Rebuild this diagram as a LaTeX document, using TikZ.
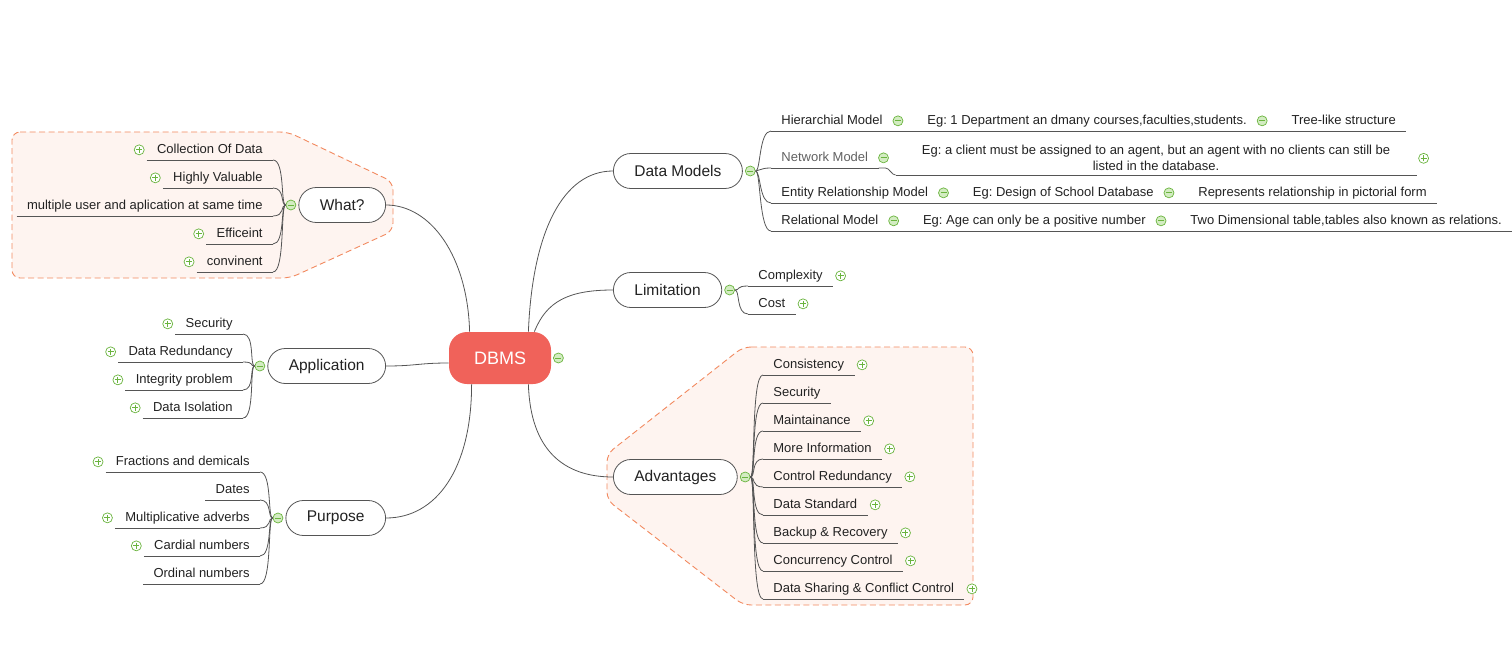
\documentclass[tikz,border=0pt]{standalone}
\usepackage{fontspec}
\setmainfont{Liberation Sans}
\usetikzlibrary{positioning}
\definecolor{rootred}{HTML}{F0625A}
\definecolor{linegray}{HTML}{555555}
\definecolor{textdark}{HTML}{222222}
\definecolor{icongreen}{HTML}{6AB43E}
\definecolor{iconfill}{HTML}{D3ECC2}
\definecolor{zoneline}{HTML}{F2895F}
\definecolor{zonefill}{HTML}{FEF4F0}

\tikzset{
  rootnode/.style={fill=rootred, rounded corners=18pt, minimum width=102pt, minimum height=52pt,
    text=white, font=\fontsize{18}{20}\selectfont},
  topic/.style={draw=linegray, fill=white, rounded corners=17.5pt, minimum height=35pt,
    inner xsep=21pt, font=\fontsize{15.5}{18}\selectfont},
  leafbase/.style={inner xsep=10pt, inner ysep=3.5pt, font=\fontsize{13}{16}\selectfont,
    append after command={(\tikzlastnode.south west) edge[draw=linegray] (\tikzlastnode.south east)}},
  leaf/.style={leafbase, text height=9.5pt, text depth=3pt},
  foldicon/.style={circle, draw=icongreen, line width=0.7pt, minimum size=10pt, inner sep=0pt},
  foldminus/.style={foldicon, fill=iconfill,
    path picture={\draw[icongreen, line width=0.9pt] ([xshift=-3pt]path picture bounding box.center) -- ([xshift=3pt]path picture bounding box.center);}},
  foldplus/.style={foldicon, fill=white,
    path picture={\draw[icongreen, line width=0.9pt] ([xshift=-3pt]path picture bounding box.center) -- ([xshift=3pt]path picture bounding box.center)
      ([yshift=-3pt]path picture bounding box.center) -- ([yshift=3pt]path picture bounding box.center);}},
  zone/.style={draw=zoneline, fill=zonefill, dash pattern=on 6pt off 3.5pt, rounded corners=8pt, line width=0.9pt},
  lcurve/.style={to path={.. controls +(-5,0) and +(12,0) .. (\tikztotarget)}},
  rcurve/.style={to path={.. controls +(5,0) and +(-12,0) .. (\tikztotarget)}}
}

\begin{document}
\frenchspacing
\begin{tikzpicture}[x=1pt, y=-1pt, line width=0.8pt, every node/.style={text=textdark}]
  \useasboundingbox (0,0) rectangle (1512,658);

  \draw[zone] (12,132) -- (288,132) -- (393,182) -- (393,231) -- (290,278) -- (12,278) -- cycle;
  \draw[zone] (743,347) -- (973,347) -- (973,605) -- (743,605) -- (607,500) -- (607,454) -- cycle;

  \node[rootnode] (dbms) at (500,358) {DBMS};
  \node[foldminus] (mdbms) at ([xshift=7pt]dbms.east) {};

  \node[topic, anchor=east] (what) at (386,205) {What?};
  \node[topic, anchor=east] (app) at (386,366) {Application};
  \node[topic, anchor=east] (purp) at (386,518) {Purpose};
  \node[topic, anchor=west] (models) at (613,171) {Data Models};
  \node[topic, anchor=west] (limit) at (613,290) {Limitation};
  \node[topic, anchor=west] (adv) at (613,477) {Advantages};
  \node[foldminus] (mwhat) at ([xshift=-7.5pt]what.west) {};
  \node[foldminus] (mapp) at ([xshift=-7.5pt]app.west) {};
  \node[foldminus] (mpurp) at ([xshift=-7.5pt]purp.west) {};
  \node[foldminus] (mmodels) at ([xshift=7.5pt]models.east) {};
  \node[foldminus] (mlimit) at ([xshift=7.5pt]limit.east) {};
  \node[foldminus] (madv) at ([xshift=7.5pt]adv.east) {};

  \node[leaf, anchor=south east] (what1) at (273,160) {Collection Of Data};
  \node[leaf, anchor=south east] (what2) at (273,188) {Highly Valuable};
  \node[leaf, anchor=south east] (what3) at (273,216) {multiple user and aplication at same time};
  \node[leaf, anchor=south east] (what4) at (273,244) {Efficeint};
  \node[leaf, anchor=south east] (what5) at (273,272) {convinent};
  \node[foldplus] (pwhat1) at ([xshift=-7.5pt]what1.west) {};
  \node[foldplus] (pwhat2) at ([xshift=-7.5pt]what2.west) {};
  \node[foldplus] (pwhat4) at ([xshift=-7.5pt]what4.west) {};
  \node[foldplus] (pwhat5) at ([xshift=-7.5pt]what5.west) {};

  \node[leaf, anchor=south east] (app1) at (243,334) {Security};
  \node[leaf, anchor=south east] (app2) at (243,362) {Data Redundancy};
  \node[leaf, anchor=south east] (app3) at (243,390) {Integrity problem};
  \node[leaf, anchor=south east] (app4) at (243,418) {Data Isolation};
  \node[foldplus] (papp1) at ([xshift=-7.5pt]app1.west) {};
  \node[foldplus] (papp2) at ([xshift=-7.5pt]app2.west) {};
  \node[foldplus] (papp3) at ([xshift=-7.5pt]app3.west) {};
  \node[foldplus] (papp4) at ([xshift=-7.5pt]app4.west) {};

  \node[leaf, anchor=south east] (purp1) at (260,472) {Fractions and demicals};
  \node[leaf, anchor=south east] (purp2) at (260,500) {Dates};
  \node[leaf, anchor=south east] (purp3) at (260,528) {Multiplicative adverbs};
  \node[leaf, anchor=south east] (purp4) at (260,556) {Cardial numbers};
  \node[leaf, anchor=south east] (purp5) at (260,584) {Ordinal numbers};
  \node[foldplus] (ppurp1) at ([xshift=-7.5pt]purp1.west) {};
  \node[foldplus] (ppurp3) at ([xshift=-7.5pt]purp3.west) {};
  \node[foldplus] (ppurp4) at ([xshift=-7.5pt]purp4.west) {};

  \node[leaf, anchor=south west] (hier1) at (771,131) {Hierarchial Model};
  \node[foldminus] (mhier1) at ([xshift=5pt]hier1.east) {};
  \node[leaf, right=24pt of hier1.south east, anchor=south west] (hier2) {Eg: 1 Department an dmany courses,faculties,students.};
  \node[foldminus] (mhier2) at ([xshift=5pt]hier2.east) {};
  \node[leaf, right=24pt of hier2.south east, anchor=south west] (hier3) {Tree-like structure};

  \node[leaf, anchor=south west, text=black!62] (net1) at (771,168) {Network Model};
  \node[foldminus] (mnet1) at ([xshift=5pt]net1.east) {};
  \node[leafbase, anchor=south west, align=center, inner xsep=26pt] (net2) at ([xshift=17pt, yshift=-7pt]net1.south east)
    {Eg: a client must be assigned to an agent, but an agent with no clients can still be\\listed in the database.};
  \node[foldplus] (pnet2) at ([xshift=7pt]net2.east) {};

  \node[leaf, anchor=south west] (ent1) at (771,203) {Entity Relationship Model};
  \node[foldminus] (ment1) at ([xshift=5pt]ent1.east) {};
  \node[leaf, right=24pt of ent1.south east, anchor=south west] (ent2) {Eg: Design of School Database};
  \node[foldminus] (ment2) at ([xshift=5pt]ent2.east) {};
  \node[leaf, right=24pt of ent2.south east, anchor=south west] (ent3) {Represents relationship in pictorial form};

  \node[leaf, anchor=south west] (rel1) at (771,231) {Relational Model};
  \node[foldminus] (mrel1) at ([xshift=5pt]rel1.east) {};
  \node[leaf, right=24pt of rel1.south east, anchor=south west] (rel2) {Eg: Age can only be a positive number};
  \node[foldminus] (mrel2) at ([xshift=5pt]rel2.east) {};
  \node[leaf, right=24pt of rel2.south east, anchor=south west] (rel3) {Two Dimensional table,tables also known as relations.};

  \node[leaf, anchor=south west] (lim1) at (748,286) {Complexity};
  \node[leaf, anchor=south west] (lim2) at (748,314) {Cost};
  \node[foldplus] (plim1) at ([xshift=7.5pt]lim1.east) {};
  \node[foldplus] (plim2) at ([xshift=7.5pt]lim2.east) {};

  \node[leaf, anchor=south west] (adv1) at (763,375) {Consistency};
  \node[leaf, anchor=south west] (adv2) at (763,403) {Security};
  \node[leaf, anchor=south west] (adv3) at (763,431) {Maintainance};
  \node[leaf, anchor=south west] (adv4) at (763,459) {More Information};
  \node[leaf, anchor=south west] (adv5) at (763,487) {Control Redundancy};
  \node[leaf, anchor=south west] (adv6) at (763,515) {Data Standard};
  \node[leaf, anchor=south west] (adv7) at (763,543) {Backup \& Recovery};
  \node[leaf, anchor=south west] (adv8) at (763,571) {Concurrency Control};
  \node[leaf, anchor=south west] (adv9) at (763,599) {Data Sharing \& Conflict Control};
  \node[foldplus] (padv1) at ([xshift=7.5pt]adv1.east) {};
  \node[foldplus] (padv3) at ([xshift=7.5pt]adv3.east) {};
  \node[foldplus] (padv4) at ([xshift=7.5pt]adv4.east) {};
  \node[foldplus] (padv5) at ([xshift=7.5pt]adv5.east) {};
  \node[foldplus] (padv6) at ([xshift=7.5pt]adv6.east) {};
  \node[foldplus] (padv7) at ([xshift=7.5pt]adv7.east) {};
  \node[foldplus] (padv8) at ([xshift=7.5pt]adv8.east) {};
  \node[foldplus] (padv9) at ([xshift=7.5pt]adv9.east) {};

  \draw[linegray] ([xshift=21pt]dbms.north west) .. controls +(-2,-75) and +(45,0) .. (what.east);
  \draw[linegray] ([yshift=-5pt]dbms.west) .. controls +(-30,0) and +(30,0) .. (app.east);
  \draw[linegray] ([xshift=23pt]dbms.south west) .. controls +(0,85) and +(50,0) .. (purp.east);
  \draw[linegray] ([xshift=-23pt]dbms.north east) .. controls +(4,-100) and +(-50,0) .. (models.west);
  \draw[linegray] ([xshift=-17pt]dbms.north east) .. controls +(12,-30) and +(-45,0) .. (limit.west);
  \draw[linegray] ([xshift=-23pt]dbms.south east) .. controls +(2,65) and +(-50,0) .. (adv.west);

  \path[draw=linegray] (mwhat.west) edge[lcurve] (what1.south east) edge[lcurve] (what2.south east)
    edge[lcurve] (what3.south east) edge[lcurve] (what4.south east) edge[lcurve] (what5.south east);
  \path[draw=linegray] (mapp.west) edge[lcurve] (app1.south east) edge[lcurve] (app2.south east)
    edge[lcurve] (app3.south east) edge[lcurve] (app4.south east);
  \path[draw=linegray] (mpurp.west) edge[lcurve] (purp1.south east) edge[lcurve] (purp2.south east)
    edge[lcurve] (purp3.south east) edge[lcurve] (purp4.south east) edge[lcurve] (purp5.south east);
  \path[draw=linegray] (mmodels.east) edge[rcurve] (hier1.south west) edge[rcurve] (net1.south west)
    edge[rcurve] (ent1.south west) edge[rcurve] (rel1.south west);
  \path[draw=linegray] (mlimit.east) edge[rcurve] (lim1.south west) edge[rcurve] (lim2.south west);
  \path[draw=linegray] (madv.east) edge[rcurve] (adv1.south west) edge[rcurve] (adv2.south west)
    edge[rcurve] (adv3.south west) edge[rcurve] (adv4.south west) edge[rcurve] (adv5.south west)
    edge[rcurve] (adv6.south west) edge[rcurve] (adv7.south west) edge[rcurve] (adv8.south west)
    edge[rcurve] (adv9.south west);

  \draw[linegray] (hier1.south east) -- (hier2.south west) (hier2.south east) -- (hier3.south west);
  \draw[linegray] (net1.south east) -- ++(7,0) .. controls +(4,0) and +(-4,0) .. (net2.south west);
  \draw[linegray] (ent1.south east) -- (ent2.south west) (ent2.south east) -- (ent3.south west);
  \draw[linegray] (rel1.south east) -- (rel2.south west) (rel2.south east) -- (rel3.south west);
\end{tikzpicture}
\end{document}
